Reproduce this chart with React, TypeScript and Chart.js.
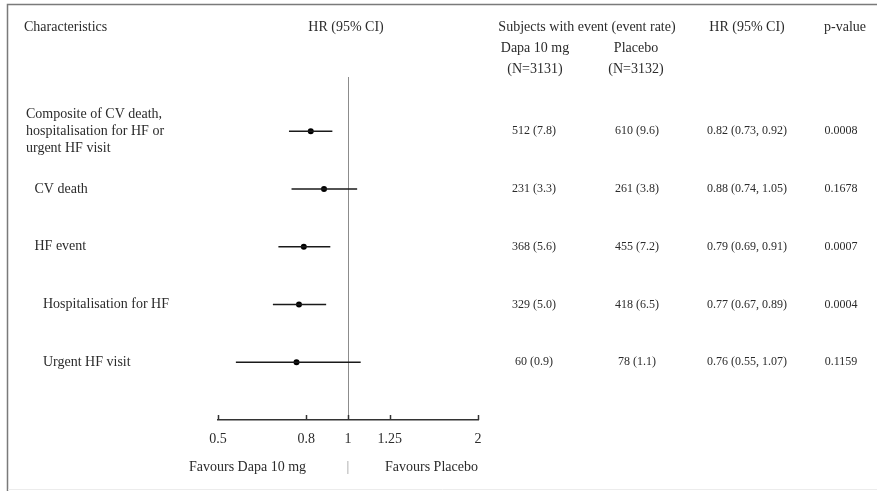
import { useEffect, useRef } from "react";
import { Chart, registerables } from "chart.js";

Chart.register(...registerables);

const categories: string[][] = [
  ["Composite of CV death,", "hospitalisation for HF or", "urgent HF visit"],
  ["CV death"],
  ["HF event"],
  ["Hospitalisation for HF"],
  ["Urgent HF visit"],
];
const indentLevel = [0, 1, 1, 2, 2];
const hr = [0.82, 0.88, 0.79, 0.77, 0.76];
const ciLow = [0.73, 0.74, 0.69, 0.67, 0.55];
const ciHigh = [0.92, 1.05, 0.91, 0.89, 1.07];
const dapaEvents = [512, 231, 368, 329, 60];
const dapaRate = [7.8, 3.3, 5.6, 5.0, 0.9];
const placeboEvents = [610, 261, 455, 418, 78];
const placeboRate = [9.6, 3.8, 7.2, 6.5, 1.1];
const pValues = ["0.0008", "0.1678", "0.0007", "0.0004", "0.1159"];
const tickValues = [0.5, 0.8, 1, 1.25, 2];

const FONT = "'Liberation Serif', 'DejaVu Serif', serif";
const TEXT = "#2b2b2b";

const tablePlugin = {
  id: "tablePlugin",
  beforeDraw(chart: any) {
    const ctx = chart.ctx;
    ctx.save();
    ctx.fillStyle = "#ffffff";
    ctx.fillRect(0, 0, chart.width, chart.height);
    // frame
    ctx.strokeStyle = "#7a7a7a";
    ctx.lineWidth = 1.5;
    ctx.beginPath();
    ctx.moveTo(7.5, chart.height);
    ctx.lineTo(7.5, 4.5);
    ctx.lineTo(chart.width, 4.5);
    ctx.stroke();
    ctx.strokeStyle = "#ececec";
    ctx.lineWidth = 1;
    ctx.beginPath();
    ctx.moveTo(8, 489.5);
    ctx.lineTo(chart.width, 489.5);
    ctx.stroke();
    ctx.restore();
  },
  beforeDatasetsDraw(chart: any) {
    const ctx = chart.ctx;
    const x = chart.scales.x;
    const area = chart.chartArea;
    const px = Math.round(x.getPixelForValue(1)) + 0.5;
    ctx.save();
    ctx.strokeStyle = "#8c8c8c";
    ctx.lineWidth = 1;
    ctx.beginPath();
    ctx.moveTo(px, area.top);
    ctx.lineTo(px, area.bottom);
    ctx.stroke();
    ctx.restore();
  },
  afterDraw(chart: any) {
    const ctx = chart.ctx;
    const xs = chart.scales.x;
    const ys = chart.scales.y;
    const area = chart.chartArea;
    ctx.save();
    // tick marks (inward)
    ctx.strokeStyle = "#333";
    ctx.lineWidth = 1.5;
    xs.ticks.forEach((t: any) => {
      const px = Math.round(xs.getPixelForValue(t.value)) + 0.5;
      ctx.beginPath();
      ctx.moveTo(px, area.bottom - 5);
      ctx.lineTo(px, area.bottom);
      ctx.stroke();
    });

    ctx.fillStyle = TEXT;
    ctx.textBaseline = "middle";
    // headers
    ctx.font = `14px ${FONT}`;
    ctx.textAlign = "left";
    ctx.fillText("Characteristics", 24, 27);
    ctx.textAlign = "center";
    ctx.fillText("HR (95% CI)", 346, 27);
    ctx.fillText("Subjects with event (event rate)", 587, 27);
    ctx.fillText("Dapa 10 mg", 535, 48);
    ctx.fillText("(N=3131)", 535, 69);
    ctx.fillText("Placebo", 636, 48);
    ctx.fillText("(N=3132)", 636, 69);
    ctx.fillText("HR (95% CI)", 747, 27);
    ctx.fillText("p-value", 845, 27);

    // favours
    ctx.textAlign = "left";
    ctx.fillText("Favours Dapa 10 mg", 189, 467);
    ctx.fillText("Favours Placebo", 385, 467);
    ctx.textAlign = "center";
    ctx.fillStyle = "#999";
    ctx.fillText("|", xs.getPixelForValue(1), 467);
    ctx.fillStyle = TEXT;

    // rows
    categories.forEach((lines, i) => {
      const py = ys.getPixelForValue(i);
      ctx.font = `14px ${FONT}`;
      ctx.textAlign = "left";
      const n = lines.length;
      lines.forEach((ln, j) => {
        ctx.fillText(ln, 26 + indentLevel[i] * 8.5, py + (j - (n - 1) / 2) * 17);
      });
      ctx.font = `12px ${FONT}`;
      ctx.textAlign = "center";
      ctx.fillText(`${dapaEvents[i]} (${dapaRate[i].toFixed(1)})`, 534, py);
      ctx.fillText(`${placeboEvents[i]} (${placeboRate[i].toFixed(1)})`, 637, py);
      ctx.fillText(
        `${hr[i].toFixed(2)} (${ciLow[i].toFixed(2)}, ${ciHigh[i].toFixed(2)})`,
        747,
        py
      );
      ctx.fillText(pValues[i], 841, py);
    });
    ctx.restore();
  },
};

export default function App() {
  const ref = useRef<HTMLCanvasElement | null>(null);
  useEffect(() => {
    if (!ref.current) return;
    const ciSets = hr.map((_, i) => ({
      type: "line" as const,
      data: [
        { x: ciLow[i], y: i },
        { x: ciHigh[i], y: i },
      ],
      borderColor: "#1a1a1a",
      borderWidth: 1.5,
      pointRadius: 0,
      showLine: true,
      fill: false,
    }));
    const pointSet = {
      type: "scatter" as const,
      data: hr.map((v, i) => ({ x: v, y: i })),
      backgroundColor: "#000",
      borderColor: "#000",
      pointRadius: 3,
      borderWidth: 0,
    };
    const chart = new Chart(ref.current, {
      type: "scatter",
      data: { datasets: [...ciSets, pointSet] as any },
      options: {
        animation: false,
        responsive: false,
        devicePixelRatio: 1,
        layout: { padding: { left: 218, right: 399, top: 77, bottom: 41 } },
        plugins: { legend: { display: false }, tooltip: { enabled: false } },
        scales: {
          x: {
            type: "logarithmic",
            min: 0.5,
            max: 2,
            position: "bottom",
            afterBuildTicks: (s: any) => {
              s.ticks = tickValues.map((v) => ({ value: v }));
            },
            afterFit: (s: any) => {
              s.height = 30;
              s.paddingLeft = 0;
              s.paddingRight = 0;
            },
            grid: { display: false, drawTicks: false },
            border: { display: true, color: "#333", width: 1.5 },
            ticks: {
              autoSkip: false,
              maxRotation: 0,
              padding: 11,
              color: TEXT,
              font: { family: FONT, size: 14 },
              callback: (v: any) => String(v),
            },
          },
          y: { type: "linear", display: false, min: -0.94, max: 5, reverse: true },
        },
      },
      plugins: [tablePlugin],
    });
    return () => chart.destroy();
  }, []);
  return (
    <div style={{ position: "absolute", left: 0, top: 0, width: 877, height: 491 }}>
      <canvas ref={ref} width={877} height={491} />
    </div>
  );
}
